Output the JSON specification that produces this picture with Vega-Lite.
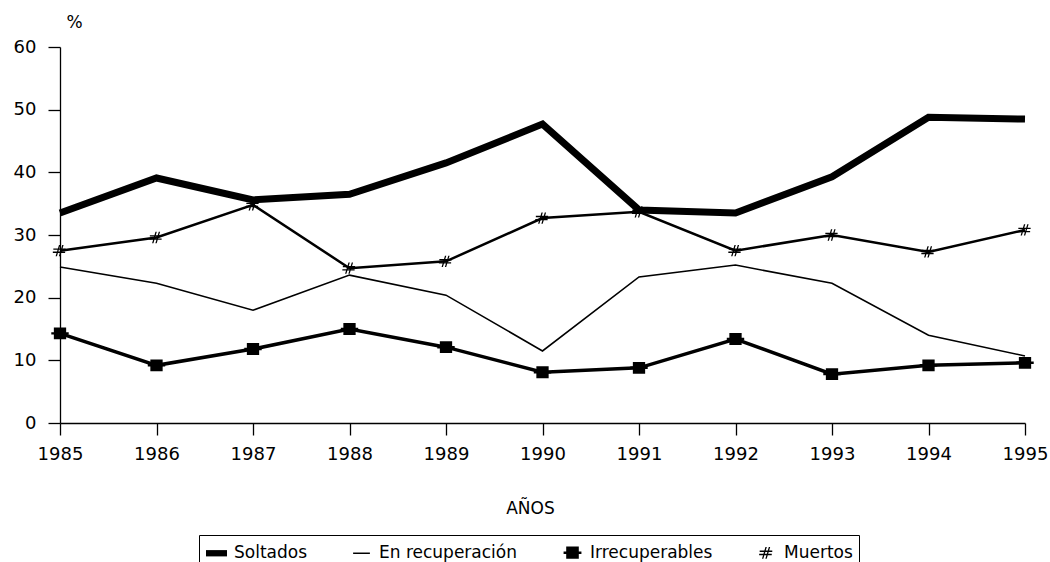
{
  "$schema": "https://vega.github.io/schema/vega-lite/v6.json",
  "autosize": "none",
  "width": 965,
  "height": 376,
  "padding": {"left": 60, "top": 47, "right": 25, "bottom": 139},
  "background": "white",
  "config": {
    "view": {"stroke": null},
    "font": "DejaVu Sans",
    "axis": {"grid": false, "domainColor": "black", "tickColor": "black", "labelColor": "black", "titleColor": "black", "labelFontSize": 18, "titleFontSize": 17, "titleFontWeight": "normal", "domainWidth": 1.3, "tickWidth": 1.3, "tickSize": 12},
    "legend": {"labelFontSize": 17, "labelColor": "black", "symbolSize": 441}
  },
  "data": {"values": [
    {"serie": "Soltados", "year": 1985, "v": 33.5},
    {"serie": "Soltados", "year": 1986, "v": 39.1},
    {"serie": "Soltados", "year": 1987, "v": 35.6},
    {"serie": "Soltados", "year": 1988, "v": 36.5},
    {"serie": "Soltados", "year": 1989, "v": 41.5},
    {"serie": "Soltados", "year": 1990, "v": 47.7},
    {"serie": "Soltados", "year": 1991, "v": 34.0},
    {"serie": "Soltados", "year": 1992, "v": 33.5},
    {"serie": "Soltados", "year": 1993, "v": 39.3},
    {"serie": "Soltados", "year": 1994, "v": 48.8},
    {"serie": "Soltados", "year": 1995, "v": 48.5},
    {"serie": "En recuperación", "year": 1985, "v": 24.9},
    {"serie": "En recuperación", "year": 1986, "v": 22.3},
    {"serie": "En recuperación", "year": 1987, "v": 18.0},
    {"serie": "En recuperación", "year": 1988, "v": 23.6},
    {"serie": "En recuperación", "year": 1989, "v": 20.4},
    {"serie": "En recuperación", "year": 1990, "v": 11.5},
    {"serie": "En recuperación", "year": 1991, "v": 23.3},
    {"serie": "En recuperación", "year": 1992, "v": 25.2},
    {"serie": "En recuperación", "year": 1993, "v": 22.3},
    {"serie": "En recuperación", "year": 1994, "v": 14.0},
    {"serie": "En recuperación", "year": 1995, "v": 10.7},
    {"serie": "Irrecuperables", "year": 1985, "v": 14.3},
    {"serie": "Irrecuperables", "year": 1986, "v": 9.2},
    {"serie": "Irrecuperables", "year": 1987, "v": 11.8},
    {"serie": "Irrecuperables", "year": 1988, "v": 15.0},
    {"serie": "Irrecuperables", "year": 1989, "v": 12.1},
    {"serie": "Irrecuperables", "year": 1990, "v": 8.1},
    {"serie": "Irrecuperables", "year": 1991, "v": 8.8},
    {"serie": "Irrecuperables", "year": 1992, "v": 13.4},
    {"serie": "Irrecuperables", "year": 1993, "v": 7.8},
    {"serie": "Irrecuperables", "year": 1994, "v": 9.2},
    {"serie": "Irrecuperables", "year": 1995, "v": 9.6},
    {"serie": "Muertos", "year": 1985, "v": 27.5},
    {"serie": "Muertos", "year": 1986, "v": 29.6},
    {"serie": "Muertos", "year": 1987, "v": 34.8},
    {"serie": "Muertos", "year": 1988, "v": 24.7},
    {"serie": "Muertos", "year": 1989, "v": 25.8},
    {"serie": "Muertos", "year": 1990, "v": 32.7},
    {"serie": "Muertos", "year": 1991, "v": 33.7},
    {"serie": "Muertos", "year": 1992, "v": 27.5},
    {"serie": "Muertos", "year": 1993, "v": 30.0},
    {"serie": "Muertos", "year": 1994, "v": 27.3},
    {"serie": "Muertos", "year": 1995, "v": 30.8}
  ]},
  "encoding": {
    "x": {"field": "year", "type": "quantitative",
      "scale": {"domain": [1985, 1995], "nice": false, "zero": false},
      "axis": {"values": [1985,1986,1987,1988,1989,1990,1991,1992,1993,1994,1995], "format": "d", "labelFlush": false, "labelPadding": 10, "title": "AÑOS", "titleX": 470, "titleY": 85, "titleBaseline": "middle", "titleAlign": "center"}},
    "y": {"field": "v", "type": "quantitative",
      "scale": {"domain": [0, 60], "nice": false},
      "axis": {"values": [0,10,20,30,40,50,60], "labelPadding": 12, "title": "%", "titleAngle": 0, "titleAlign": "left", "titleBaseline": "middle", "titleX": 6, "titleY": -25}}
  },
  "layer": [
    {
      "transform": [{"filter": {"field": "serie", "equal": "Soltados"}}],
      "mark": {"type": "line", "color": "black", "strokeWidth": 7},
      "encoding": {}
    },
    {
      "transform": [{"filter": {"field": "serie", "equal": "En recuperación"}}],
      "mark": {"type": "line", "color": "black", "strokeWidth": 1.6},
      "encoding": {}
    },
    {
      "transform": [{"filter": {"field": "serie", "equal": "Irrecuperables"}}],
      "mark": {"type": "line", "color": "black", "strokeWidth": 3.5},
      "encoding": {}
    },
    {
      "transform": [{"filter": {"field": "serie", "equal": "Muertos"}}],
      "mark": {"type": "line", "color": "black", "strokeWidth": 2.5},
      "encoding": {}
    },
    {
      "transform": [{"filter": {"field": "serie", "oneOf": ["Irrecuperables", "Muertos"]}}],
      "mark": {"type": "point", "filled": true, "color": "black", "opacity": 1, "size": 420},
      "encoding": {
        "shape": {"field": "serie", "type": "nominal",
          "scale": {"domain": ["Soltados", "En recuperación", "Irrecuperables", "Muertos"],
            "range": [
              "M-1,-0.3H1V0.3H-1Z",
              "M-0.8,-0.07H0.8V0.07H-0.8Z",
              "M-0.6,-0.58H0.6V0.58H-0.6Z M-0.85,-0.12H0.85V0.12H-0.85Z",
              "M-0.1,-0.55L0.03,-0.55L-0.3,0.55L-0.43,0.55Z M0.22,-0.55L0.35,-0.55L0.02,0.55L-0.11,0.55Z M-0.65,-0.22H0.55V-0.09H-0.65Z M-0.7,0.09H0.5V0.22H-0.7Z"
            ]},
          "legend": {"title": null, "orient": "none", "legendX": 139, "legendY": 488, "direction": "horizontal", "strokeColor": "black", "padding": 6, "columnPadding": 42, "labelOffset": 6}}
      }
    }
  ]
}
